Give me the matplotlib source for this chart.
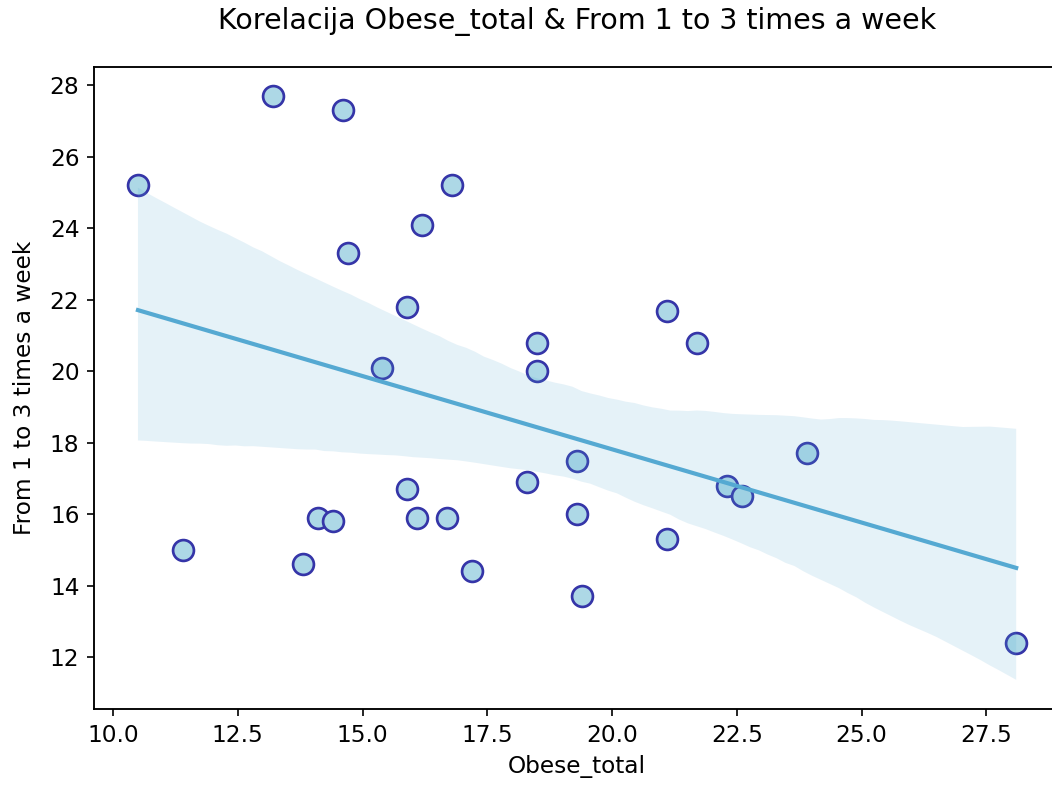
import numpy as np
import matplotlib
matplotlib.use("Agg")
import matplotlib.pyplot as plt
import seaborn as sns

obese_total = [10.5, 11.4, 13.2, 13.8, 14.1, 14.4, 14.6, 14.7, 15.4, 15.9,
               15.9, 16.1, 16.2, 16.7, 16.8, 17.2, 18.3, 18.5, 18.5, 19.3,
               19.3, 19.4, 21.1, 21.1, 21.7, 22.3, 22.6, 23.9, 28.1]
one_to_three = [25.2, 15.0, 27.7, 14.6, 15.9, 15.8, 27.3, 23.3, 20.1, 21.8,
                16.7, 15.9, 24.1, 15.9, 25.2, 14.4, 16.9, 20.8, 20.0, 17.5,
                16.0, 13.7, 21.7, 15.3, 20.8, 16.8, 16.5, 17.7, 12.4]

x_name = "Obese_total"
y_name = "From 1 to 3 times a week"

plt.rcParams["font.size"] = 11.2
plt.rcParams["axes.linewidth"] = 0.9

fig = plt.figure(figsize=(1052 / 150, 787 / 150), dpi=150)
# the right side of the axes runs past the edge of the picture, as in the original
ax = fig.add_axes([0.0894, 0.0991, 0.9183, 0.8158])

sns.regplot(x=np.array(obese_total), y=np.array(one_to_three), ax=ax,
            color="#55a9d2", seed=3,
            scatter_kws={"s": 100, "facecolor": "lightblue",
                         "edgecolor": "#3535a8", "linewidths": 1.3, "alpha": 1},
            line_kws={"linewidth": 2.0})

ax.spines["right"].set_visible(False)
ax.set_xlabel(x_name)
ax.set_ylabel(y_name, labelpad=6.5)
ax.set_title(f"Korelacija {x_name} & {y_name}", fontsize=13.7, pad=18)
ax.set_xticks([10.0, 12.5, 15.0, 17.5, 20.0, 22.5, 25.0, 27.5])
ax.set_yticks([12, 14, 16, 18, 20, 22, 24, 26, 28])

fig.savefig("out.png", dpi=150)
